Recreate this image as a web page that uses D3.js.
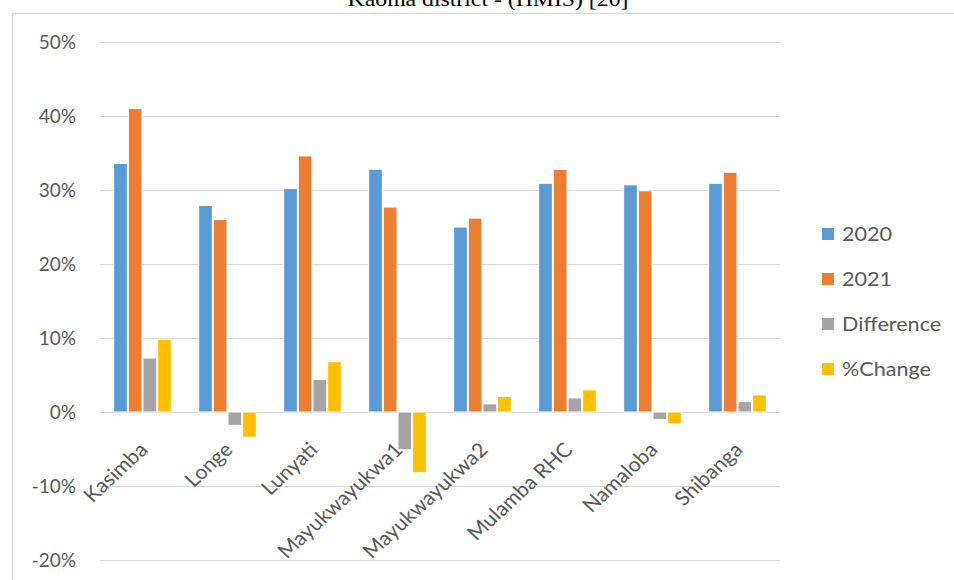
<!DOCTYPE html>
<html>
<head>
<meta charset="utf-8">
<script src="https://cdn.jsdelivr.net/npm/d3@7/dist/d3.min.js"></script>
<style>
  html, body { margin: 0; padding: 0; background: #fff; }
  svg { display: block; }
</style>
</head>
<body>
<svg id="chart" width="954" height="580"></svg>
<script>
// Facility share by year, Kaoma district
const facilities = ["Kasimba", "Longe", "Lunyati", "Mayukwayukwa1", "Mayukwayukwa2", "Mulamba RHC", "Namaloba", "Shibanga"];
const seriesNames = ["2020", "2021", "Difference", "%Change"];
const values2020 = [33.6, 27.9, 30.2, 32.8, 25.0, 30.9, 30.7, 30.9];
const values2021 = [41.0, 26.0, 34.6, 27.7, 26.2, 32.8, 29.9, 32.4];
const difference = [7.3, -1.8, 4.4, -5.1, 1.1, 1.9, -1.0, 1.4];
const pctChange = [9.8, -3.4, 6.8, -8.2, 2.1, 3.0, -1.6, 2.3];
const yTicks = [-20, -10, 0, 10, 20, 30, 40, 50];
const colors = ["#5B9BD5", "#ED7D31", "#A5A5A5", "#FFC000"];

const seriesValues = [values2020, values2021, difference, pctChange];
const rows = facilities.map((f, i) => ({ name: f, vals: seriesValues.map(s => s[i]) }));

const svg = d3.select("#chart");
const W = 954, H = 580;
const plot = { left: 100, right: 780, top: 42, bottom: 560 };
const labelFont = "Lato, 'Open Sans', sans-serif";
const sx = 1.08; // slight horizontal widening of the labels

// Title (partly above the visible frame)
svg.append("text")
  .attr("transform", `translate(488,6) scale(${sx},1)`)
  .attr("text-anchor", "middle")
  .attr("font-family", "'Liberation Serif', 'Times New Roman', serif")
  .attr("font-size", 22)
  .attr("fill", "#000")
  .text("Kaoma district - (HMIS) [20]");

// Chart frame
svg.append("line").attr("x1", 12.5).attr("x2", 12.5).attr("y1", 13).attr("y2", H)
  .attr("stroke", "#d9d9d9").attr("stroke-width", 1.5);
svg.append("line").attr("x1", 12).attr("x2", W).attr("y1", 13.5).attr("y2", 13.5)
  .attr("stroke", "#d9d9d9").attr("stroke-width", 1.5);

const y = d3.scaleLinear().domain([-20, 50]).range([plot.bottom, plot.top]);
const x0 = d3.scaleBand().domain(facilities).range([plot.left, plot.right]).paddingInner(0.31).paddingOuter(0.155);
const x1 = d3.scaleBand().domain(seriesNames).range([0, x0.bandwidth()]).padding(0);

// Gridlines
svg.append("g").selectAll("line").data(yTicks).join("line")
  .attr("x1", plot.left).attr("x2", plot.right)
  .attr("y1", d => Math.round(y(d)) + 0.5).attr("y2", d => Math.round(y(d)) + 0.5)
  .attr("stroke", "#d9d9d9").attr("stroke-width", 1);

// Y axis labels
const yAxis = d3.axisLeft(y).tickValues(yTicks).tickSize(0).tickPadding(0).tickFormat(d => d + "%");
const gy = svg.append("g").attr("transform", `translate(${76},0)`).call(yAxis);
gy.select(".domain").remove();
gy.selectAll("text")
  .attr("font-family", labelFont)
  .attr("font-size", 19)
  .attr("fill", "#595959");

// Bars
const groups = svg.append("g").selectAll("g").data(rows).join("g")
  .attr("transform", d => `translate(${x0(d.name)},0)`);
groups.selectAll("rect").data(d => d.vals.map((v, i) => ({ key: seriesNames[i], v, i }))).join("rect")
  .attr("x", d => x1(d.key) + 0.5)
  .attr("width", x1.bandwidth() - 1)
  .attr("y", d => y(Math.max(0, d.v)))
  .attr("height", d => Math.abs(y(d.v) - y(0)))
  .attr("fill", d => colors[d.i])
  .attr("stroke", "#fff").attr("stroke-width", 1);

// Category labels rotated below the zero line
const gx = svg.append("g");
gx.selectAll("text").data(facilities).join("text")
  .attr("transform", d => `translate(${x0(d) + x0.bandwidth() / 2 + 6.5},${y(0) + 39}) scale(${sx},1) rotate(-45)`)
  .attr("text-anchor", "end")
  .attr("font-family", labelFont)
  .attr("font-size", 20)
  .attr("fill", "#595959")
  .text(d => d);

// Legend
const legend = svg.append("g").selectAll("g").data(seriesNames).join("g")
  .attr("transform", (d, i) => `translate(822,${234 + i * 45})`);
legend.append("rect").attr("x", 0).attr("y", -6).attr("width", 12).attr("height", 12)
  .attr("fill", (d, i) => colors[i]);
legend.append("text")
  .attr("transform", `translate(20,0) scale(${sx},1)`)
  .attr("dy", "0.35em")
  .attr("font-family", labelFont)
  .attr("font-size", 20)
  .attr("fill", "#595959")
  .text(d => d);
</script>
</body>
</html>
